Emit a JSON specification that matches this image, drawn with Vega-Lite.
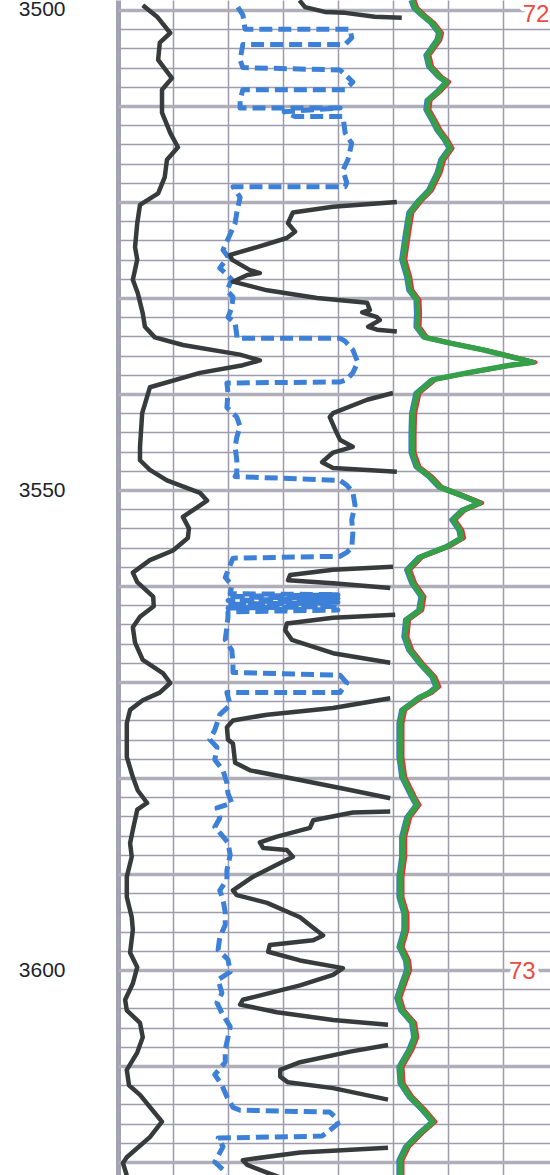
{
  "$schema": "https://vega.github.io/schema/vega-lite/v6.json",
  "width": 432,
  "height": 1175,
  "autosize": "none",
  "padding": {"left": 118, "top": 0, "right": 0, "bottom": 0},
  "background": "white",
  "config": {"view": {"stroke": null}},
  "datasets": {
    "A": [
      {"d":3499.5,"v":4.5},{"d":3500.7,"v":7.1},{"d":3502.4,"v":9.5},{"d":3503.4,"v":7.6},{"d":3505.2,"v":7.3},{"d":3507.1,"v":9.8},{"d":3508.3,"v":8.0},{"d":3510.7,"v":8.0},{"d":3512.8,"v":9.5},{"d":3514.3,"v":10.9},{"d":3515.6,"v":8.9},{"d":3517.4,"v":8.5},{"d":3519.1,"v":7.3},{"d":3520.3,"v":4.0},{"d":3522.2,"v":3.5},{"d":3524.7,"v":3.1},{"d":3526.0,"v":3.5},{"d":3528.1,"v":2.7},{"d":3529.5,"v":3.6},{"d":3531.6,"v":4.5},{"d":3533.0,"v":4.9},{"d":3534.1,"v":6.7},{"d":3534.9,"v":11.8},{"d":3535.9,"v":22.2},{"d":3536.5,"v":25.8},{"d":3537.0,"v":22.7},{"d":3537.8,"v":14.9},{"d":3539.3,"v":5.8},{"d":3542.0,"v":4.4},{"d":3545.5,"v":4.0},{"d":3546.9,"v":4.0},{"d":3547.9,"v":5.8},{"d":3549.0,"v":8.9},{"d":3550.3,"v":14.9},{"d":3551.1,"v":16.2},{"d":3551.8,"v":14.4},{"d":3552.8,"v":11.8},{"d":3554.0,"v":12.9},{"d":3555.0,"v":12.7},{"d":3556.3,"v":10.0},{"d":3557.3,"v":5.8},{"d":3558.6,"v":2.7},{"d":3559.6,"v":3.5},{"d":3561.1,"v":6.4},{"d":3562.1,"v":6.5},{"d":3563.2,"v":4.0},{"d":3564.3,"v":2.7},{"d":3565.9,"v":3.1},{"d":3567.7,"v":4.5},{"d":3569.1,"v":8.2},{"d":3570.1,"v":9.5},{"d":3571.1,"v":7.6},{"d":3571.9,"v":4.5},{"d":3572.9,"v":2.2},{"d":3574.3,"v":1.6},{"d":3577.8,"v":1.6},{"d":3579.9,"v":2.7},{"d":3581.3,"v":3.6},{"d":3582.6,"v":5.3},{"d":3583.3,"v":3.5},{"d":3585.4,"v":2.7},{"d":3586.8,"v":2.2},{"d":3588.2,"v":2.5},{"d":3590.3,"v":1.6},{"d":3592.4,"v":1.6},{"d":3594.5,"v":2.5},{"d":3595.8,"v":2.7},{"d":3598.2,"v":2.2},{"d":3599.7,"v":3.5},{"d":3601.4,"v":2.7},{"d":3603.1,"v":1.3},{"d":3604.2,"v":1.6},{"d":3605.5,"v":4.0},{"d":3607.0,"v":4.5},{"d":3608.6,"v":3.5},{"d":3610.4,"v":1.6},{"d":3612.0,"v":2.0},{"d":3613.0,"v":4.0},{"d":3615.8,"v":8.0},{"d":3617.4,"v":5.8},{"d":3619.5,"v":1.6},{"d":3620.1,"v":0.9},{"d":3621.4,"v":1.6}
    ],
    "B": [
      {"s":1,"d":3499.0,"v":33.0},{"s":1,"d":3499.7,"v":34.0},{"s":1,"d":3500.2,"v":37.6},{"s":1,"d":3500.3,"v":41.3},{"s":1,"d":3500.7,"v":46.7},{"s":1,"d":3500.8,"v":51.6},
      {"s":2,"d":3520.0,"v":50.7},{"s":2,"d":3520.5,"v":39.1},{"s":2,"d":3521.1,"v":31.8},{"s":2,"d":3522.2,"v":30.9},{"s":2,"d":3523.1,"v":32.2},{"s":2,"d":3523.75,"v":30.7},{"s":2,"d":3524.7,"v":25.3},{"s":2,"d":3525.5,"v":20.4},{"s":2,"d":3526.0,"v":20.7},{"s":2,"d":3527.1,"v":24.0},{"s":2,"d":3527.4,"v":25.8},{"s":2,"d":3527.6,"v":23.5},{"s":2,"d":3528.3,"v":20.9},{"s":2,"d":3529.2,"v":27.1},{"s":2,"d":3530.0,"v":36.2},{"s":2,"d":3530.5,"v":45.3},{"s":2,"d":3531.25,"v":45.8},{"s":2,"d":3531.5,"v":44.4},{"s":2,"d":3532.0,"v":47.1},{"s":2,"d":3532.3,"v":47.6},{"s":2,"d":3533.0,"v":45.5},{"s":2,"d":3533.3,"v":47.1},{"s":2,"d":3533.5,"v":50.7},
      {"s":3,"d":3539.9,"v":50.0},{"s":3,"d":3540.6,"v":45.3},{"s":3,"d":3542.0,"v":39.1},{"s":3,"d":3542.4,"v":38.5},{"s":3,"d":3544.1,"v":39.8},{"s":3,"d":3544.8,"v":40.4},{"s":3,"d":3545.5,"v":42.7},{"s":3,"d":3546.1,"v":39.1},{"s":3,"d":3547.1,"v":37.1},{"s":3,"d":3547.7,"v":39.1},{"s":3,"d":3548.1,"v":50.7},
      {"s":4,"d":3558.0,"v":50.0},{"s":4,"d":3558.3,"v":39.1},{"s":4,"d":3558.85,"v":31.3},{"s":4,"d":3559.4,"v":30.9},{"s":4,"d":3559.7,"v":39.1},{"s":4,"d":3560.2,"v":49.5},
      {"s":5,"d":3563.0,"v":50.4},{"s":5,"d":3563.3,"v":39.1},{"s":5,"d":3563.9,"v":30.7},{"s":5,"d":3564.6,"v":30.4},{"s":5,"d":3565.6,"v":31.6},{"s":5,"d":3567.0,"v":39.1},{"s":5,"d":3568.0,"v":49.5},
      {"s":6,"d":3571.7,"v":49.5},{"s":6,"d":3572.7,"v":39.1},{"s":6,"d":3573.4,"v":27.1},{"s":6,"d":3574.0,"v":20.9},{"s":6,"d":3574.7,"v":19.8},{"s":6,"d":3576.0,"v":20.0},{"s":6,"d":3576.4,"v":20.9},{"s":6,"d":3578.4,"v":21.3},{"s":6,"d":3579.2,"v":24.0},{"s":6,"d":3580.2,"v":33.1},{"s":6,"d":3581.25,"v":42.2},{"s":6,"d":3582.1,"v":49.5},
      {"s":7,"d":3583.5,"v":49.5},{"s":7,"d":3583.6,"v":42.7},{"s":7,"d":3584.4,"v":35.5},{"s":7,"d":3585.2,"v":34.9},{"s":7,"d":3586.1,"v":28.9},{"s":7,"d":3586.7,"v":25.8},{"s":7,"d":3587.3,"v":26.4},{"s":7,"d":3587.5,"v":30.7},{"s":7,"d":3588.2,"v":31.8},{"s":7,"d":3588.85,"v":29.5},{"s":7,"d":3590.3,"v":24.5},{"s":7,"d":3591.7,"v":20.9},{"s":7,"d":3592.2,"v":21.6},{"s":7,"d":3593.0,"v":27.1},{"s":7,"d":3594.5,"v":33.1},{"s":7,"d":3595.1,"v":34.4},{"s":7,"d":3596.4,"v":37.3},{"s":7,"d":3596.9,"v":35.5},{"s":7,"d":3597.4,"v":27.6},{"s":7,"d":3598.1,"v":27.3},{"s":7,"d":3599.0,"v":33.1},{"s":7,"d":3599.8,"v":40.9},{"s":7,"d":3600.5,"v":39.1},{"s":7,"d":3601.6,"v":33.1},{"s":7,"d":3603.1,"v":22.7},{"s":7,"d":3603.6,"v":22.2},{"s":7,"d":3604.4,"v":28.9},{"s":7,"d":3605.2,"v":39.1},{"s":7,"d":3605.7,"v":49.1},
      {"s":8,"d":3607.8,"v":49.1},{"s":8,"d":3608.5,"v":42.2},{"s":8,"d":3609.6,"v":33.1},{"s":8,"d":3610.4,"v":29.5},{"s":8,"d":3611.1,"v":29.5},{"s":8,"d":3611.7,"v":30.9},{"s":8,"d":3612.3,"v":39.1},{"s":8,"d":3613.5,"v":49.1},
      {"s":9,"d":3618.5,"v":49.1},{"s":9,"d":3619.0,"v":33.1},{"s":9,"d":3619.8,"v":22.7},{"s":9,"d":3620.3,"v":23.5},{"s":9,"d":3621.1,"v":27.1},{"s":9,"d":3621.8,"v":30.4}
    ],
    "C": [
      {"d":3499.7,"v":21.8},{"d":3500.5,"v":22.7},{"d":3502.0,"v":23.1},{"d":3502.0,"v":42.2},{"d":3502.9,"v":42.5},{"d":3503.6,"v":41.3},{"d":3503.6,"v":22.7},{"d":3505.2,"v":22.2},{"d":3506.0,"v":22.7},{"d":3506.25,"v":40.4},{"d":3507.5,"v":42.7},{"d":3508.3,"v":41.3},{"d":3508.3,"v":22.7},{"d":3509.4,"v":22.2},{"d":3510.2,"v":22.2},{"d":3510.2,"v":40.4},{"d":3510.6,"v":30.2},{"d":3511.1,"v":32.2},{"d":3511.1,"v":40.9},{"d":3512.8,"v":41.3},{"d":3513.9,"v":42.5},{"d":3515.6,"v":41.8},{"d":3516.7,"v":40.9},{"d":3518.0,"v":41.6},{"d":3518.4,"v":41.3},{"d":3518.4,"v":20.9},{"d":3518.75,"v":21.3},{"d":3519.5,"v":22.2},{"d":3521.1,"v":21.6},{"d":3522.2,"v":21.3},{"d":3525.0,"v":19.1},{"d":3525.7,"v":20.0},{"d":3526.9,"v":18.5},{"d":3527.4,"v":19.5},{"d":3528.1,"v":20.7},{"d":3529.2,"v":19.8},{"d":3529.9,"v":20.9},{"d":3531.0,"v":20.7},{"d":3532.0,"v":20.0},{"d":3532.6,"v":21.3},{"d":3533.9,"v":21.6},{"d":3534.2,"v":21.6},{"d":3534.2,"v":40.4},{"d":3534.5,"v":41.3},{"d":3535.4,"v":42.7},{"d":3536.7,"v":43.6},{"d":3537.8,"v":42.7},{"d":3538.5,"v":41.6},{"d":3538.75,"v":40.4},{"d":3538.85,"v":19.8},{"d":3539.9,"v":20.0},{"d":3541.4,"v":19.8},{"d":3542.4,"v":21.6},{"d":3543.4,"v":22.2},{"d":3544.5,"v":21.6},{"d":3545.5,"v":21.3},{"d":3546.9,"v":21.6},{"d":3548.2,"v":21.6},{"d":3548.6,"v":21.3},{"d":3549.0,"v":40.4},{"d":3549.5,"v":41.6},{"d":3550.2,"v":42.7},{"d":3551.6,"v":43.1},{"d":3553.1,"v":42.5},{"d":3554.5,"v":42.7},{"d":3556.0,"v":42.5},{"d":3556.5,"v":41.6},{"d":3556.9,"v":40.4},{"d":3557.1,"v":20.9},{"d":3559.1,"v":19.5},{"d":3559.9,"v":20.7},{"d":3560.8,"v":20.4},{"d":3560.9,"v":40.0},{"d":3561.1,"v":20.0},{"d":3561.3,"v":40.0},{"d":3561.5,"v":20.0},{"d":3561.7,"v":40.0},{"d":3561.9,"v":20.0},{"d":3562.1,"v":40.0},{"d":3562.3,"v":20.0},{"d":3562.5,"v":40.0},{"d":3562.7,"v":20.0},{"d":3563.2,"v":20.0},{"d":3564.3,"v":19.8},{"d":3565.6,"v":19.5},{"d":3566.7,"v":20.7},{"d":3568.0,"v":20.9},{"d":3569.0,"v":20.9},{"d":3569.3,"v":40.4},{"d":3570.1,"v":41.6},{"d":3570.8,"v":40.7},{"d":3571.1,"v":40.4},{"d":3571.1,"v":19.8},{"d":3572.4,"v":20.4},{"d":3573.4,"v":18.5},{"d":3575.0,"v":17.6},{"d":3576.0,"v":16.7},{"d":3576.8,"v":18.0},{"d":3578.1,"v":17.6},{"d":3579.2,"v":19.1},{"d":3580.5,"v":19.8},{"d":3581.6,"v":20.0},{"d":3582.6,"v":20.7},{"d":3583.1,"v":18.0},{"d":3584.2,"v":18.5},{"d":3585.1,"v":17.6},{"d":3586.1,"v":19.1},{"d":3586.75,"v":20.0},{"d":3588.0,"v":20.4},{"d":3589.6,"v":19.8},{"d":3590.6,"v":19.8},{"d":3591.7,"v":18.5},{"d":3592.7,"v":19.1},{"d":3594.0,"v":19.5},{"d":3595.3,"v":19.5},{"d":3596.6,"v":18.5},{"d":3597.9,"v":18.2},{"d":3598.9,"v":20.0},{"d":3600.2,"v":20.4},{"d":3601.0,"v":18.2},{"d":3602.4,"v":18.9},{"d":3603.4,"v":18.0},{"d":3604.5,"v":18.9},{"d":3605.9,"v":20.4},{"d":3607.0,"v":20.0},{"d":3608.3,"v":19.5},{"d":3609.6,"v":19.5},{"d":3610.9,"v":17.6},{"d":3612.0,"v":18.9},{"d":3613.2,"v":19.8},{"d":3614.3,"v":20.9},{"d":3614.6,"v":22.2},{"d":3614.8,"v":38.5},{"d":3615.3,"v":39.5},{"d":3616.0,"v":40.0},{"d":3616.7,"v":38.5},{"d":3617.3,"v":37.1},{"d":3617.5,"v":18.2},{"d":3618.4,"v":19.1},{"d":3620.0,"v":17.6},{"d":3620.8,"v":19.1},{"d":3621.6,"v":19.5}
    ],
    "D": [
      {"d":3499.0,"v":53.5},{"d":3499.8,"v":54.0},{"d":3500.5,"v":55.3},{"d":3501.35,"v":57.1},{"d":3502.4,"v":58.5},{"d":3503.1,"v":58.2},{"d":3504.0,"v":57.1},{"d":3504.7,"v":56.2},{"d":3505.9,"v":56.7},{"d":3507.0,"v":58.5},{"d":3507.5,"v":59.8},{"d":3508.5,"v":58.2},{"d":3509.4,"v":56.4},{"d":3510.4,"v":56.2},{"d":3511.5,"v":57.3},{"d":3512.5,"v":58.2},{"d":3513.5,"v":59.5},{"d":3514.4,"v":60.4},{"d":3515.6,"v":58.9},{"d":3517.0,"v":58.2},{"d":3518.0,"v":57.3},{"d":3518.75,"v":56.7},{"d":3519.8,"v":54.9},{"d":3521.1,"v":53.1},{"d":3523.2,"v":52.5},{"d":3526.0,"v":51.8},{"d":3527.8,"v":52.7},{"d":3529.2,"v":53.1},{"d":3530.2,"v":54.4},{"d":3531.6,"v":54.5},{"d":3533.0,"v":54.4},{"d":3534.1,"v":55.8},{"d":3534.7,"v":60.4},{"d":3535.4,"v":66.4},{"d":3536.1,"v":71.3},{"d":3536.7,"v":75.5},{"d":3537.0,"v":71.3},{"d":3537.8,"v":63.5},{"d":3538.5,"v":57.3},{"d":3539.9,"v":54.4},{"d":3542.0,"v":53.6},{"d":3544.1,"v":53.5},{"d":3546.1,"v":53.5},{"d":3547.6,"v":54.4},{"d":3548.6,"v":56.7},{"d":3549.7,"v":58.5},{"d":3550.5,"v":62.2},{"d":3551.35,"v":65.8},{"d":3552.1,"v":62.7},{"d":3553.1,"v":60.9},{"d":3554.2,"v":62.2},{"d":3555.0,"v":62.5},{"d":3555.9,"v":59.8},{"d":3557.0,"v":54.9},{"d":3558.3,"v":52.7},{"d":3559.7,"v":53.6},{"d":3561.1,"v":55.3},{"d":3562.5,"v":54.9},{"d":3563.5,"v":52.5},{"d":3565.3,"v":52.2},{"d":3566.7,"v":53.1},{"d":3568.0,"v":54.9},{"d":3569.5,"v":57.3},{"d":3570.5,"v":58.0},{"d":3571.1,"v":56.7},{"d":3571.6,"v":54.9},{"d":3572.9,"v":51.8},{"d":3574.3,"v":51.3},{"d":3577.8,"v":51.3},{"d":3579.9,"v":51.8},{"d":3582.0,"v":53.6},{"d":3582.8,"v":54.4},{"d":3584.1,"v":52.7},{"d":3586.1,"v":51.8},{"d":3588.2,"v":51.8},{"d":3590.3,"v":51.3},{"d":3592.4,"v":51.3},{"d":3594.1,"v":52.2},{"d":3595.8,"v":52.2},{"d":3597.6,"v":51.3},{"d":3599.0,"v":52.5},{"d":3600.0,"v":52.7},{"d":3601.4,"v":51.8},{"d":3602.9,"v":50.9},{"d":3604.2,"v":51.6},{"d":3605.5,"v":53.6},{"d":3607.0,"v":54.0},{"d":3608.3,"v":53.1},{"d":3610.1,"v":51.3},{"d":3611.8,"v":51.5},{"d":3613.2,"v":53.1},{"d":3614.6,"v":55.5},{"d":3615.8,"v":57.3},{"d":3617.0,"v":54.9},{"d":3618.4,"v":52.5},{"d":3619.8,"v":51.3},{"d":3621.6,"v":51.3}
    ],
    "T": [
      {"d":3500.5,"v":76.0,"t":"72"},
      {"d":3600.2,"v":73.5,"t":"73"}
    ]
  },
  "encoding": {
    "x": {
      "field": "v", "type": "quantitative",
      "scale": {"domain": [0, 78.55], "nice": false, "zero": false},
      "axis": {
        "values": [0, 10, 20, 30, 40, 50, 60, 70],
        "labels": false, "ticks": false, "domain": false, "title": null,
        "grid": true,
        "gridColor": {"condition": {"test": "datum.value === 0", "value": "#a3a2b3"}, "value": "#9c9aab"},
        "gridWidth": {"condition": {"test": "datum.value === 0", "value": 5}, "value": 1.5}
      }
    },
    "y": {
      "field": "d", "type": "quantitative",
      "scale": {"domain": [3498.96, 3621.35], "reverse": true, "nice": false, "zero": false},
      "axis": {
        "values": [3500,3502,3504,3506,3508,3510,3512,3514,3516,3518,3520,3522,3524,3526,3528,3530,3532,3534,3536,3538,3540,3542,3544,3546,3548,3550,3552,3554,3556,3558,3560,3562,3564,3566,3568,3570,3572,3574,3576,3578,3580,3582,3584,3586,3588,3590,3592,3594,3596,3598,3600,3602,3604,3606,3608,3610,3612,3614,3616,3618,3620],
        "title": null, "domain": false, "ticks": false, "tickSize": 0,
        "labelPadding": 53, "labelFontSize": 21, "labelFont": "Liberation Sans",
        "labelColor": "#20232a", "labelBaseline": "middle", "labelOverlap": false, "labelBound": false, "labelFlush": false,
        "labelExpr": "datum.value % 50 === 0 ? datum.value : ''",
        "grid": true,
        "gridColor": {"condition": {"test": "datum.value % 10 === 0", "value": "#afaeb9"}, "value": "#9f9dad"},
        "gridWidth": {"condition": {"test": "datum.value % 10 === 0", "value": 3.5}, "value": 1.5}
      }
    }
  },
  "layer": [
    {
      "data": {"name": "A"},
      "mark": {"type": "line", "color": "#383b3c", "strokeWidth": 4.5, "strokeJoin": "round", "clip": true},
      "encoding": {"order": {"value": null}}
    },
    {
      "data": {"name": "C"},
      "mark": {"type": "line", "color": "#3d80d8", "strokeWidth": 5, "strokeDash": [13, 6], "strokeCap": "butt", "strokeJoin": "round", "clip": true},
      "encoding": {"order": {"value": null}}
    },
    {
      "data": {"name": "B"},
      "mark": {"type": "line", "color": "#383b3c", "strokeWidth": 4.5, "strokeJoin": "round", "clip": true},
      "encoding": {"detail": {"field": "s", "type": "nominal"}, "order": {"value": null}}
    },
    {
      "data": {"name": "D"},
      "mark": {"type": "line", "color": "#2b2b2b", "strokeWidth": 4, "xOffset": 1.5, "strokeJoin": "round", "clip": true},
      "encoding": {"order": {"value": null}}
    },
    {
      "data": {"name": "D"},
      "mark": {"type": "line", "color": "#e8313a", "strokeWidth": 4, "xOffset": 2.4, "strokeJoin": "round", "clip": true},
      "encoding": {"order": {"value": null}}
    },
    {
      "data": {"name": "D"},
      "mark": {"type": "line", "color": "#3a78d8", "strokeWidth": 4, "xOffset": -1.8, "strokeJoin": "round", "clip": true},
      "encoding": {"order": {"value": null}}
    },
    {
      "data": {"name": "D"},
      "mark": {"type": "line", "color": "#34a048", "strokeWidth": 5.5, "strokeJoin": "round", "clip": true},
      "encoding": {"order": {"value": null}}
    },
    {
      "data": {"name": "T"},
      "mark": {"type": "text", "font": "Liberation Sans", "fontSize": 24, "fill": "white", "stroke": "white", "strokeWidth": 9, "strokeJoin": "round", "baseline": "middle", "align": "center"},
      "encoding": {"text": {"field": "t", "type": "nominal"}}
    },
    {
      "data": {"name": "T"},
      "mark": {"type": "text", "font": "Liberation Sans", "fontSize": 24, "fill": "#ef4a42", "baseline": "middle", "align": "center"},
      "encoding": {"text": {"field": "t", "type": "nominal"}}
    }
  ]
}
